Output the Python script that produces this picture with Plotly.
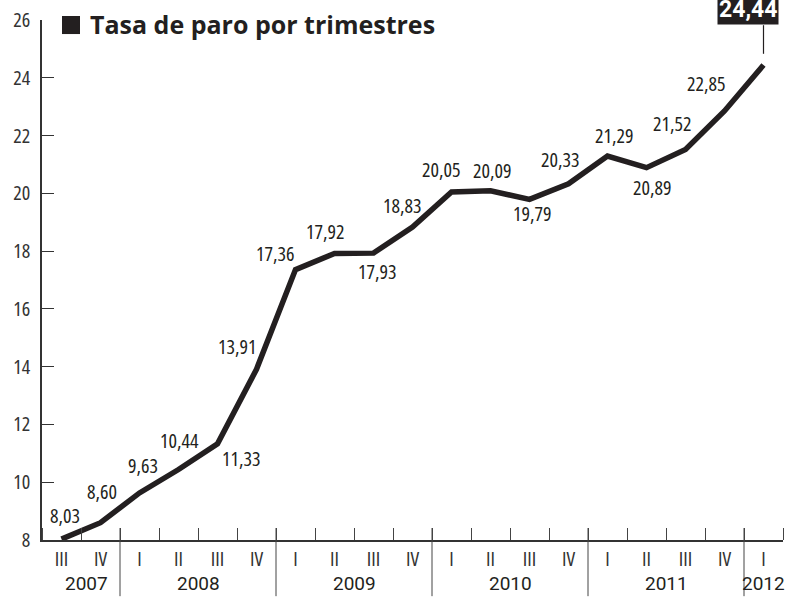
import plotly.graph_objects as go

# ---- data ----
quarters = ["III", "IV",
            "I", "II", "III", "IV",
            "I", "II", "III", "IV",
            "I", "II", "III", "IV",
            "I", "II", "III", "IV",
            "I"]
years = ["2007", "2008", "2009", "2010", "2011", "2012"]
quarters_per_year = [2, 4, 4, 4, 4, 1]
rate = [8.03, 8.60, 9.63, 10.44, 11.33, 13.91, 17.36, 17.92, 17.93, 18.83,
        20.05, 20.09, 19.79, 20.33, 21.29, 20.89, 21.52, 22.85, 24.44]
y_ticks = [8, 10, 12, 14, 16, 18, 20, 22, 24, 26]
title = "Tasa de paro por trimestres"

# label offsets in pixels (dx right, dy down)
label_offsets = [(3, -24), (1, -31), (3, -27), (1, -29), (23, 15), (-20, -23),
                 (-21, -16), (-10, -22), (3, 18), (-11, -22), (-11, -22), (1, -20),
                 (2, 14), (-9, -24), (6, -21), (5, 20), (-14, -26), (-19, -28)]

NARROW = "Open Sans"
INK = "#231f20"
GREY = "#333333"


def cond(s, how="condensed"):
    return f"<span style='font-stretch:{how}'>{s}</span>"


x = list(range(len(rate)))

fig = go.Figure()
fig.add_trace(go.Scatter(
    x=x, y=rate, mode="lines",
    line=dict(color=INK, width=5.5),
    cliponaxis=False, hoverinfo="skip", showlegend=False,
))


def fmt(v):
    return f"{v:.2f}".replace(".", ",")


annotations = []
for i, v in enumerate(rate[:-1]):
    dx, dy = label_offsets[i]
    annotations.append(dict(
        x=i, y=v, xref="x", yref="y", text=cond(fmt(v)), showarrow=False,
        xshift=dx, yshift=-dy, font=dict(family=NARROW, size=20, color=INK),
    ))

# highlighted last value
last = len(rate) - 1
annotations.append(dict(
    x=last, y=0.990, xref="x", yref="paper", yanchor="bottom",
    text="<b>" + fmt(rate[-1]) + "</b>", showarrow=False, xshift=-16,
    bgcolor=INK, borderpad=1,
    font=dict(family="Roboto", size=23, color="white"),
))

# title
annotations.append(dict(
    x=0.0621, y=0.992, xref="paper", yref="paper", xanchor="left", yanchor="middle",
    text=cond("<b>" + title + "</b>", "90%"), showarrow=False,
    font=dict(family=NARROW, size=25, color=INK),
))

# years
start = 0
dividers = []
for yr, n in zip(years, quarters_per_year):
    center = start + (n - 1) / 2
    if yr == years[0]:
        center += 0.15
    annotations.append(dict(
        x=center, y=-0.083, xref="x", yref="paper", yanchor="middle",
        text=yr, showarrow=False,
        font=dict(family="Roboto", size=19, color=INK),
    ))
    if start > 0:
        dividers.append(start - 0.5)
    start += n

shapes = []
for d in dividers:
    shapes.append(dict(type="line", xref="x", yref="paper", x0=d, x1=d,
                       y0=0.023, y1=-0.108, line=dict(color="#444", width=1)))
# leader line for the last value
shapes.append(dict(type="line", xref="x", yref="paper", x0=last, x1=last,
                   y0=0.990, y1=0.935, line=dict(color=INK, width=1.2)))
# title square
shapes.append(dict(type="rect", xref="paper", yref="paper", x0=0.027, x1=0.0513,
                   y0=0.973, y1=1.0077, fillcolor=INK, line=dict(width=0)))

fig.update_layout(
    width=801, height=600,
    margin=dict(l=42, r=18, t=20, b=60),
    paper_bgcolor="white", plot_bgcolor="white",
    annotations=annotations, shapes=shapes,
    xaxis=dict(
        range=[-0.5, len(rate) - 0.5], tickmode="array", tickvals=x,
        ticktext=[cond(q) for q in quarters],
        ticks="", showgrid=False, zeroline=False, showline=True, automargin=False,
        linecolor=GREY, linewidth=1.5,
        tickfont=dict(family=NARROW, size=20, color=GREY),
        minor=dict(tickmode="array", tickvals=[i + 0.5 for i in range(-1, len(rate))],
                   ticks="inside", ticklen=12, tickcolor="#444", tickwidth=1),
    ),
    yaxis=dict(
        range=[8, 26], tickmode="array", tickvals=y_ticks,
        ticktext=[cond(str(t)) for t in y_ticks],
        ticks="inside", ticklen=12, tickcolor=GREY, tickwidth=1.2,
        showgrid=False, zeroline=False, showline=True, automargin=False,
        linecolor=GREY, linewidth=1.5,
        tickfont=dict(family=NARROW, size=20, color=GREY), ticklabelstandoff=6,
    ),
)

fig.write_html("out.html", config={"displayModeBar": False},
               post_script="document.body.style.margin='0';")
